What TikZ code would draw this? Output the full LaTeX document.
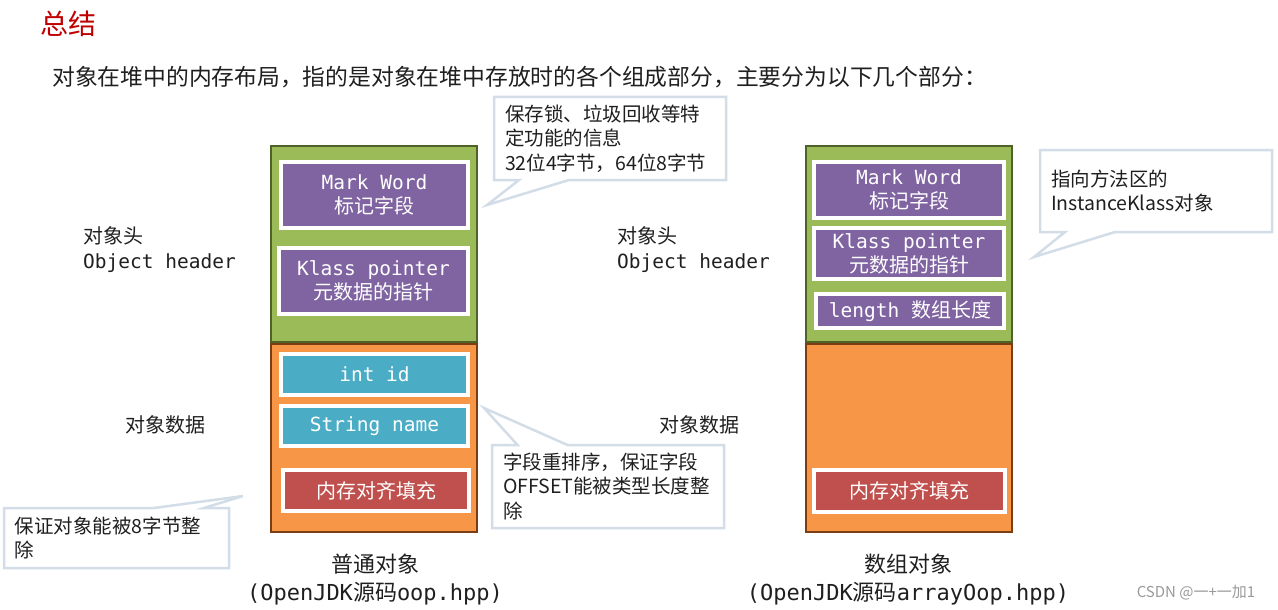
\documentclass[tikz,border=0pt]{standalone}
\usepackage{fontspec}
\setmainfont{Noto Sans CJK SC}
\setmonofont{DejaVu Sans Mono}
\usetikzlibrary{shapes.callouts,shadows}

\definecolor{headgreen}{HTML}{9BBB59}
\definecolor{headline}{HTML}{4F6228}
\definecolor{bodyorange}{HTML}{F79646}
\definecolor{bodyline}{HTML}{7A3E12}
\definecolor{fieldpurple}{HTML}{8064A2}
\definecolor{fieldteal}{HTML}{4BACC6}
\definecolor{padred}{HTML}{C0504D}
\definecolor{noteline}{HTML}{D3DDE8}
\definecolor{titlered}{HTML}{C00000}
\definecolor{textdark}{HTML}{1F1F1F}

\begin{document}
\begin{tikzpicture}[
            x=1pt, y=-1pt,
            headblk/.style={
                rectangle,
                draw=headline,
                fill=headgreen,
                line width=2.5pt,
                minimum width=206pt,
                minimum height=196pt
            },
            bodyblk/.style={
                rectangle,
                draw=bodyline,
                fill=bodyorange,
                line width=2.5pt,
                minimum width=206pt,
                minimum height=188pt
            },
            field/.style={
                rectangle,
                draw=white,
                line width=4pt,
                text=white,
                align=center,
                inner sep=0pt,
                font=\fontsize{20}{24}\selectfont,
                drop shadow={opacity=0.25, shadow xshift=1pt, shadow yshift=-1.5pt}
            },
            code/.style={font=\ttfamily\fontsize{19.5}{24}\selectfont},
            label/.style={
                inner sep=0pt,
                text=textdark,
                align=left,
                font=\fontsize{20}{25}\selectfont
            },
            caption/.style={
                inner sep=0pt,
                text=textdark,
                align=center,
                font=\fontsize{22}{28}\selectfont
            },
            note/.style={
                rectangle callout,
                draw=noteline,
                fill=white,
                line width=2.5pt,
                text=textdark,
                align=left,
                inner xsep=11pt,
                inner ysep=4pt,
                callout pointer width=50pt,
                font=\fontsize{19.5}{24.5}\selectfont
            }
        ]

            \useasboundingbox (0,0) rectangle (1278,610);

            % title
            \node[inner sep=0pt, text=titlered, font=\fontsize{28}{30}\selectfont] (title) at (68,24) {总结};
            \node[inner sep=0pt, anchor=west, text=textdark, font=\fontsize{22.8}{26}\selectfont] (intro) at (52,77)
                {对象在堆中的内存布局，指的是对象在堆中存放时的各个组成部分，主要分为以下几个部分：};

            % plain object
            \node[bodyblk] (lbody) at (374,438) {};
            \node[headblk] (lhead) at (374,244) {};

            \node[field, fill=fieldpurple, minimum width=187pt, minimum height=66pt] (lmark) at (374.5,195)
                {{\ttfamily\fontsize{19.5}{24}\selectfont Mark Word}\\标记字段};
            \node[field, fill=fieldpurple, minimum width=189pt, minimum height=66pt] (lklass) at (373.5,281)
                {{\ttfamily\fontsize{19.5}{24}\selectfont Klass pointer}\\元数据的指针};
            \node[field, code, fill=fieldteal, minimum width=187pt, minimum height=41pt] (lint) at (374.5,374.5) {int id};
            \node[field, code, fill=fieldteal, minimum width=187pt, minimum height=40pt] (lstr) at (374.5,426) {String name};
            \node[field, fill=padred, minimum width=186pt, minimum height=41pt] (lpad) at (376,490.5) {内存对齐填充};

            \node[label, anchor=west] (lheadlbl) at (83,250)
                {对象头\\{\ttfamily\fontsize{19.5}{25}\selectfont Object header}};
            \node[label] (lbodylbl) at (165,425) {对象数据};

            \node[caption] (lcap) at (375,579)
                {普通对象\\{\ttfamily (OpenJDK}源码{\ttfamily oop.hpp)}};

            % array object
            \node[bodyblk] (rbody) at (909,438) {};
            \node[headblk] (rhead) at (909,244) {};

            \node[field, fill=fieldpurple, minimum width=190pt, minimum height=56pt] (rmark) at (909,190)
                {{\ttfamily\fontsize{19.5}{24}\selectfont Mark Word}\\标记字段};
            \node[field, fill=fieldpurple, minimum width=190pt, minimum height=51pt] (rklass) at (909,253.5)
                {{\ttfamily\fontsize{19.5}{24}\selectfont Klass pointer}\\元数据的指针};
            \node[field, fill=fieldpurple, minimum width=188pt, minimum height=34pt] (rlen) at (910,311)
                {{\ttfamily\fontsize{19.5}{24}\selectfont length\ }数组长度};
            \node[field, fill=padred, minimum width=191pt, minimum height=42pt] (rpad) at (909.5,491) {内存对齐填充};

            \node[label, anchor=west] (rheadlbl) at (617,250)
                {对象头\\{\ttfamily\fontsize{19.5}{25}\selectfont Object header}};
            \node[label] (rbodylbl) at (699,425) {对象数据};

            \node[caption] (rcap) at (908,579)
                {数组对象\\{\ttfamily (OpenJDK}源码{\ttfamily arrayOop.hpp)}};

            % callouts
            \node[note, text width=210pt, minimum height=83pt, callout absolute pointer={(487,205)}] (locknote) at (610,138.5)
                {保存锁、垃圾回收等特\\定功能的信息\\32位4字节，64位8字节};
            \node[note, text width=210pt, minimum height=83pt, callout absolute pointer={(484,408)}] (ordernote) at (608,486.5)
                {字段重排序，保证字段\\OFFSET能被类型长度整\\除};
            \node[note, text width=203pt, minimum height=60pt, callout absolute pointer={(243,496)}] (alignnote) at (116.5,538)
                {保证对象能被8字节整\\除};
            \node[note, text width=210pt, minimum height=82pt, callout absolute pointer={(1034,257)}] (klassnote) at (1156,191)
                {指向方法区的\\InstanceKlass对象};

            \node[inner sep=0pt, text=black!40, font=\fontsize{15}{18}\selectfont] (mark) at (1196,593) {CSDN @一+一加1};

        \end{tikzpicture}
\end{document}
